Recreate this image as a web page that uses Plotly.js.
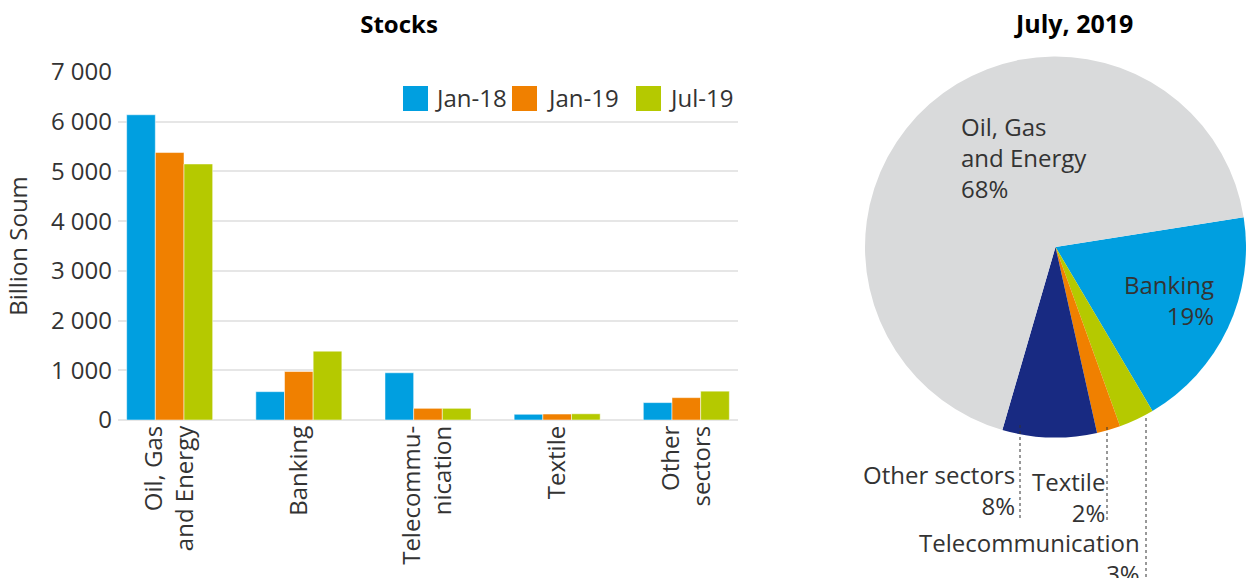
<!DOCTYPE html>
<html><head><meta charset="utf-8">
<script src="https://cdn.plot.ly/plotly-3.0.1.min.js"></script>
<style>html,body{margin:0;padding:0;overflow:hidden;background:#fff}</style>
</head><body><div id="chart" style="width:1246px;height:578px"></div>
<script>
// ---- data ----
const categories = ['Oil, Gas<br>and Energy', 'Banking', 'Telecommu-<br>nication', 'Textile', 'Other<br>sectors'];
const seriesNames = ['Jan-18', 'Jan-19', 'Jul-19'];
const jan18 = [6140, 570, 950, 115, 350];
const jan19 = [5380, 975, 235, 120, 450];
const jul19 = [5150, 1385, 235, 125, 580];
const seriesColors = ['#009fe0', '#f08000', '#b5c900'];
const yTickVals = [0, 1000, 2000, 3000, 4000, 5000, 6000, 7000];

const pieLabels = ['Banking', 'Telecommunication', 'Textile', 'Other sectors', 'Oil, Gas<br>and Energy'];
const pieShares = [19, 3, 2, 8, 68];
const pieColors = ['#009fe0', '#b5c900', '#f08000', '#182a82', '#d9dadb'];

// ---- helpers (pixel -> paper) ----
const W = 1246, H = 578;
const px = x => x / W;
const py = y => 1 - y / H;
const FONT = 'Open Sans, Noto Sans, sans-serif';
const TXT = '#333333';
const FS = 24;

const seriesValues = [jan18, jan19, jul19];
const traces = seriesNames.map((name, i) => ({
  type: 'bar', name: name, x: categories, y: seriesValues[i],
  marker: {color: seriesColors[i], line: {color: 'rgba(255,255,255,0.5)', width: 1}},
  xaxis: 'x', yaxis: 'y', showlegend: false
}));

traces.push({
  type: 'pie', labels: pieLabels, values: pieShares, sort: false, direction: 'clockwise',
  rotation: 81, marker: {colors: pieColors, line: {width: 0}},
  textinfo: 'none', showlegend: false,
  domain: {x: [px(865), 1], y: [py(440), py(54)]}
});

// legend (custom, large squares)
const legSq = [[403, 428], [512, 537], [636, 661]];
const legTx = [433, 545, 667];
const shapes = [];
const annotations = [];
seriesNames.forEach((n, i) => {
  shapes.push({type: 'rect', xref: 'paper', yref: 'paper', x0: px(legSq[i][0]), x1: px(legSq[i][1]),
    y0: py(111), y1: py(86), fillcolor: seriesColors[i], line: {width: 0}});
  annotations.push({xref: 'paper', yref: 'paper', x: px(legTx[i]), y: py(98), xanchor: 'left', yanchor: 'middle',
    text: n, showarrow: false, font: {family: FONT, size: FS, color: TXT}});
});

// pie labels
const pieLabelPos = [
  {x: 1215, y: 300, xa: 'right', ya: 'middle'},
  {x: 1141, y: 525, xa: 'right', ya: 'top'},
  {x: 1106, y: 497, xa: 'right', ya: 'middle'},
  {x: 1016, y: 490, xa: 'right', ya: 'middle'},
  {x: 960, y: 157, xa: 'left', ya: 'middle'}
];
pieLabels.forEach((l, i) => {
  const p = pieLabelPos[i];
  annotations.push({xref: 'paper', yref: 'paper', x: px(p.x), y: py(p.y), xanchor: p.xa, yanchor: p.ya,
    align: p.xa, text: l + '<br>' + pieShares[i] + '%', showarrow: false, borderpad: 0,
    font: {family: FONT, size: FS, color: TXT}});
});
// leader lines
[[1146, 418, 580], [1107, 427, 522], [1020, 425, 519]].forEach(l => {
  shapes.push({type: 'line', xref: 'paper', yref: 'paper', x0: px(l[0]), x1: px(l[0]), y0: py(l[1]), y1: py(l[2]),
    line: {color: '#333', width: 1, dash: 'dot'}});
});

annotations.push({xref: 'paper', yref: 'paper', x: px(1073), y: py(23), xanchor: 'center', yanchor: 'middle',
  text: '<b>July, 2019</b>', showarrow: false, font: {family: FONT, size: 25, color: '#000'}});

const layout = {
  width: W, height: H, margin: {l: 0, r: 0, t: 0, b: 0},
  paper_bgcolor: '#fff', plot_bgcolor: '#fff',
  separators: '. ',
  title: {text: '<b>Stocks</b>', x: px(399), xanchor: 'center', y: py(25), yanchor: 'middle',
    font: {family: FONT, size: 24, color: '#000'}},
  barmode: 'group', bargap: 0.334, bargroupgap: 0,
  xaxis: {domain: [px(118), px(738)], range: [-0.4, 4.4], tickangle: -90, automargin: false,
    showline: false, ticks: '', showgrid: false, zeroline: false,
    tickfont: {family: FONT, size: FS, color: TXT}},
  yaxis: {domain: [py(420), py(72)], range: [0, 7000], tickvals: yTickVals, tickformat: ',d',
    automargin: false, showgrid: true, gridcolor: '#e6e6e6', gridwidth: 2,
    zeroline: true, zerolinecolor: '#e6e6e6', zerolinewidth: 2, ticks: '', showline: false,
    ticklabelstandoff: 5,
    tickfont: {family: FONT, size: FS, color: TXT},
    title: {text: 'Billion Soum', standoff: 16, font: {family: FONT, size: FS, color: TXT}}},
  shapes: shapes, annotations: annotations, hovermode: false
};

Plotly.newPlot('chart', traces, layout, {displayModeBar: false, staticPlot: true});
</script></body></html>
